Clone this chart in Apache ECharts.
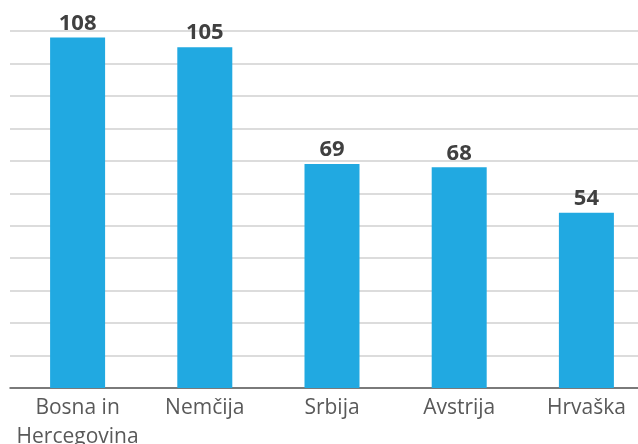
<!DOCTYPE html>
<html>
<head>
<meta charset="utf-8">
<style>
  html, body { margin: 0; padding: 0; background: #ffffff; }
  #chart { width: 638px; height: 444px; }
</style>
<script src="https://cdn.jsdelivr.net/npm/echarts@6/dist/echarts.min.js"></script>
</head>
<body>
<div id="chart"></div>
<script>
// Countries and counts
const categories = ['Bosna in\nHercegovina', 'Nemčija', 'Srbija', 'Avstrija', 'Hrvaška'];
const values = [108, 105, 69, 68, 54];

// Value axis range
const axisMin = 0;
const axisMax = 110;
const axisStep = 10;

const FONT = '"Open Sans", "Noto Sans", sans-serif';

const chart = echarts.init(document.getElementById('chart'), null, { renderer: 'canvas' });

chart.setOption({
  animation: false,
  backgroundColor: '#ffffff',
  grid: [
    // background grid: horizontal rules and the baseline
    { left: 10, right: 0, top: 31, bottom: 56, containLabel: false, outerBoundsMode: 'none' },
    // bars and category labels (band runs a little past the right edge)
    { left: 14, width: 636, top: 31, bottom: 56, containLabel: false, outerBoundsMode: 'none' }
  ],
  xAxis: [
    {
      type: 'category',
      gridIndex: 0,
      data: categories,
      axisLine: { show: true, lineStyle: { color: '#595959', width: 1.5 } },
      axisTick: { show: false },
      axisLabel: { show: false }
    },
    {
      type: 'category',
      gridIndex: 1,
      data: categories,
      axisLine: { show: false },
      axisTick: { show: false },
      axisLabel: {
        show: true,
        interval: 0,
        margin: 6,
        color: '#595959',
        fontFamily: FONT,
        fontSize: 21,
        lineHeight: 29
      }
    }
  ],
  yAxis: [
    {
      type: 'value',
      gridIndex: 0,
      min: axisMin,
      max: axisMax,
      interval: axisStep,
      axisLine: { show: false },
      axisTick: { show: false },
      axisLabel: { show: false },
      splitLine: { show: true, lineStyle: { color: '#d0d0d0', width: 1.5 } }
    },
    {
      type: 'value',
      gridIndex: 1,
      min: axisMin,
      max: axisMax,
      interval: axisStep,
      axisLine: { show: false },
      axisTick: { show: false },
      axisLabel: { show: false },
      splitLine: { show: false }
    }
  ],
  series: [
    {
      type: 'bar',
      xAxisIndex: 1,
      yAxisIndex: 1,
      data: values,
      barWidth: 55,
      itemStyle: { color: '#21a9e1' },
      label: {
        show: true,
        position: 'top',
        distance: 3,
        color: '#404040',
        fontFamily: FONT,
        fontWeight: 'bold',
        fontSize: 22
      }
    }
  ]
});
</script>
</body>
</html>
